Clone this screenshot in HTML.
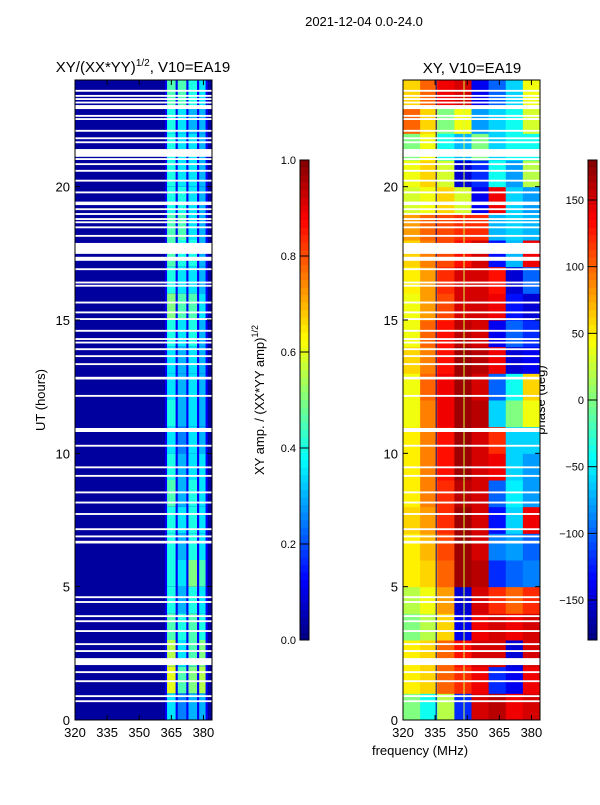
<!DOCTYPE html>
<html><head><meta charset="utf-8">
<style>
body{margin:0;background:#fff;}
svg text{font-family:"Liberation Sans","DejaVu Sans",sans-serif;fill:#000;}
</style></head>
<body>
<svg id="fig" width="600" height="800" xmlns="http://www.w3.org/2000/svg">
<rect width="600" height="800" fill="#fff"/>
<text x="364" y="26" font-size="13" text-anchor="middle">2021-12-04 0.0-24.0</text>
<text x="143" y="72" font-size="15" text-anchor="middle">XY/(XX*YY)<tspan font-size="10" dy="-6">1/2</tspan><tspan dy="6">, V10=EA19</tspan></text>
<text x="472" y="73" font-size="15" text-anchor="middle">XY, V10=EA19</text>
<text x="45" y="400" font-size="13" text-anchor="middle" transform="rotate(-90 45 400)">UT (hours)</text>
<text x="420" y="755" font-size="13" text-anchor="middle">frequency (MHz)</text>
<text x="264" y="400" font-size="13" text-anchor="middle" transform="rotate(-90 264 400)">XY amp. / (XX*YY amp)<tspan font-size="9" dy="-6">1/2</tspan></text>
<text x="545" y="400" font-size="13" text-anchor="middle" transform="rotate(-90 545 400)">phase (deg)</text>
<g id="gL"></g>
<g id="gR"></g>
<g id="gC"></g>
</svg>
<script>
// ---- data ----
const hours = [0,1,2,3,4,5,6,7,8,9,10,11,12,13,14,15,16,17,18,19,20,21,22,23];
const phaseFreqEdges = [320,328,336,344,352,360,368,376,384];
const phaseValues = [
 [0,-40,20,-120,150,160,140,150],
 [50,60,100,120,140,-120,-140,140],
 [50,60,100,130,150,150,-150,150],
 [0,20,60,-140,140,150,140,150],
 [20,40,80,-150,150,120,100,120],
 [50,60,100,170,160,-120,-100,-90],
 [50,70,110,170,150,-90,-80,-100],
 [60,80,120,170,150,-130,-60,140],
 [50,90,120,160,150,-100,-50,-80],
 [50,90,130,170,150,140,-60,-80],
 [50,90,130,170,150,120,-60,-60],
 [40,90,140,170,160,-60,0,40],
 [40,100,140,170,150,-100,-40,60],
 [60,90,130,170,160,140,-150,-140],
 [40,100,130,160,150,-140,-100,-120],
 [40,80,110,150,150,140,-130,-150],
 [50,80,120,150,150,130,-150,-100],
 [60,90,110,130,150,-130,-70,140],
 [80,100,110,120,120,-70,-60,-70],
 [30,40,60,30,-140,140,-60,-80],
 [40,60,30,-150,-120,-40,-80,20],
 [0,40,-40,-70,0,-60,-40,-40],
 [100,60,0,40,-80,-60,-40,30],
 [60,100,140,150,-140,-100,-60,40]
];
const ampBandLo = [363,368,373,378];
const ampBandHi = [367,372,377,381];
const ampBackground = 0.03;
const ampGapValue = 0.12;
const ampValues = [
 [0.35,0.25,0.3,0.3],[0.6,0.45,0.5,0.55],[0.55,0.35,0.45,0.5],[0.45,0.4,0.45,0.4],
 [0.4,0.3,0.4,0.35],[0.4,0.35,0.5,0.45],[0.4,0.3,0.4,0.35],[0.4,0.35,0.4,0.35],
 [0.45,0.3,0.4,0.35],[0.4,0.3,0.35,0.35],[0.35,0.25,0.35,0.3],[0.4,0.3,0.35,0.3],
 [0.35,0.3,0.35,0.3],[0.35,0.3,0.35,0.3],[0.4,0.35,0.4,0.3],[0.5,0.45,0.45,0.35],
 [0.4,0.35,0.35,0.3],[0.45,0.4,0.4,0.3],[0.45,0.45,0.35,0.3],[0.4,0.4,0.35,0.3],
 [0.4,0.35,0.35,0.3],[0.4,0.35,0.35,0.3],[0.4,0.35,0.3,0.3],[0.45,0.45,0.4,0.35]
];
const gapStart = [23.56,23.37,23.25,23.12,22.91,22.62,22.5,22.06,21.78,21.63,21.12,21.0,20.81,20.56,20.19,19.75,19.31,19.12,18.94,18.75,18.63,18.44,18.12,17.48,17.22,16.87,16.37,16.25,15.62,15.25,15.0,14.56,14.25,14.12,13.87,13.61,13.31,12.77,12.12,10.8,10.25,9.44,9.12,8.5,8.12,7.69,7.12,6.62,6.85,4.57,4.39,3.86,3.67,3.3,2.81,2.55,2.06,1.76,1.42,0.86,0.67];
const gapLen = 0.07;
const gapLong = {"22.91":0.15,"21.12":0.29,"19.31":0.13,"17.48":0.41,"17.22":0.15,"12.77":0.1,"10.8":0.15,"6.62":0.1,"2.06":0.26};
const xTicks = [320,335,350,365,380];
const yTicks = [0,5,10,15,20];
const ampCbTicks = [0.0,0.2,0.4,0.6,0.8,1.0];
const phaseCbTicks = [-150,-100,-50,0,50,100,150];

// ---- helpers ----
const NS="http://www.w3.org/2000/svg";
function jet(v){v=Math.max(0,Math.min(1,v));
 const f=(x)=>Math.max(0,Math.min(1,1.5-Math.abs(4*v-x)));
 return `rgb(${Math.round(255*f(3))},${Math.round(255*f(2))},${Math.round(255*f(1))})`;}
function mk(tag,attrs,parent){const e=document.createElementNS(NS,tag);for(const k in attrs)e.setAttribute(k,attrs[k]);parent.appendChild(e);return e;}
const T=24, B=720, H0=0, H1=24;
function yS(h){return B-(h-H0)/(H1-H0)*(B-80);}
function panel(x0){return f=>x0+(f-320)/(384-320)*137;}
const xL=panel(75), xR=panel(403);
const gL=document.getElementById('gL'), gR=document.getElementById('gR'), gC=document.getElementById('gC');

// amplitude panel
let bg=mk('rect',{x:xL(320),y:yS(24),width:xL(384)-xL(320),height:yS(0)-yS(24),fill:jet(ampBackground)},gL);


hours.forEach((h,i)=>{
 let g=mk('rect',{x:xL(362),y:yS(h+1),width:xL(382)-xL(362),height:yS(h)-yS(h+1),fill:jet(ampGapValue)},gL);
 
 
 ampValues[i].forEach((v,j)=>{
  let r=mk('rect',{x:xL(ampBandLo[j]),y:yS(h+1),width:xL(ampBandHi[j])-xL(ampBandLo[j]),height:yS(h)-yS(h+1),fill:jet(v)},gL);
  
  
 });
});
// phase panel
hours.forEach((h,i)=>{
 phaseValues[i].forEach((v,j)=>{
  let r=mk('rect',{x:xR(phaseFreqEdges[j]),y:yS(h+1),width:xR(phaseFreqEdges[j+1])-xR(phaseFreqEdges[j])+0.5,height:yS(h)-yS(h+1)+0.5,fill:jet((v+180)/360)},gR);
  
  
 });
});
let vl=mk('line',{x1:xR(335.5),x2:xR(335.5),y1:yS(24),y2:yS(0),stroke:'#00008f','stroke-width':1},gR);


let vl2=mk('line',{x1:xR(348.5),x2:xR(348.5),y1:yS(24),y2:yS(0),stroke:'#d0ff40','stroke-width':1},gR);


// gaps
gapStart.forEach(s=>{
 const len=gapLong[String(s)]||gapLen;
 [[xL,gL],[xR,gR]].forEach(([xs,g])=>{
  let r=mk('rect',{x:xs(320),y:yS(s+len),width:137,height:yS(s)-yS(s+len),fill:'#fff'},g);
  
  
 });
});
// axes
[[xL,gL,75],[xR,gR,403]].forEach(([xs,g,x0])=>{
 let fr=mk('rect',{x:x0,y:80,width:137,height:640,fill:'none',stroke:'#000','stroke-width':1},g);
 
 
 xTicks.forEach(t=>{
  const x=xs(t);
  mk('line',{x1:x,x2:x,y1:720,y2:715,stroke:'#000'},g);
  mk('line',{x1:x,x2:x,y1:80,y2:85,stroke:'#000'},g);
  let tx=mk('text',{x:x,y:737,'font-size':13,'text-anchor':'middle'},g);tx.textContent=t;
  
  
 });
 yTicks.forEach(t=>{
  const y=yS(t);
  mk('line',{x1:x0,x2:x0+5,y1:y,y2:y,stroke:'#000'},g);
  mk('line',{x1:x0+137,x2:x0+132,y1:y,y2:y,stroke:'#000'},g);
  let tx=mk('text',{x:x0-5,y:y+5,'font-size':13,'text-anchor':'end'},g);tx.textContent=t;
  
  
 });
});
// colorbars
function colorbar(x,lo,hi,ticks,name,fmt){
 const g=mk('g',{},gC);
 
 
 for(let k=0;k<64;k++){
  mk('rect',{x:x,y:640-(k+1)*7.5,width:9,height:7.6,fill:jet((k+0.5)/64)},g);
 }
 mk('rect',{x:x,y:160,width:9,height:480,fill:'none',stroke:'#000'},g);
 ticks.forEach(t=>{
  const y=640-(t-lo)/(hi-lo)*480;
  mk('line',{x1:x,x2:x+9,y1:y,y2:y,stroke:'#000'},g);
  let tx=mk('text',{x:x-4,y:y+4,'font-size':11,'text-anchor':'end'},g);tx.textContent=fmt(t);
  
  
 });
}
colorbar(300,0,1,ampCbTicks,'amp-colorbar',t=>t.toFixed(1));
colorbar(588,-180,180,phaseCbTicks,'phase-colorbar',t=>t<0?'\u2212'+(-t):String(t));
</script>
</body></html>
